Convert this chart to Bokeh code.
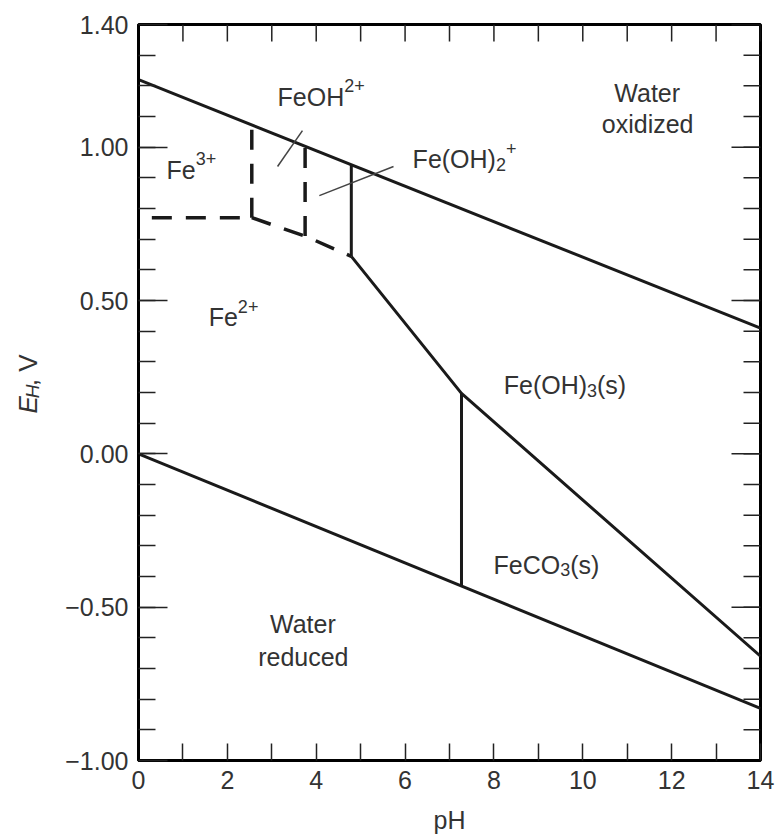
import math
from bokeh.plotting import figure
from bokeh.layouts import row
from bokeh.models import LinearAxis, FixedTicker, Range1d
from bokeh.core.properties import value
from bokeh.embed import file_html
from bokeh.resources import INLINE

# ---------------- data ----------------
x_major = [0, 2, 4, 6, 8, 10, 12, 14]
x_minor = [1, 3, 5, 7, 9, 11, 13]
x_all = list(range(0, 15))
y_major = [-1.0, -0.5, 0.0, 0.5, 1.0, 1.4]
y_labels = ["\u22121.00", "\u22120.50", "0.00", "0.50", "1.00", "1.40"]
y_minor = [round(-0.9 + 0.1 * i, 2) for i in range(23)]

water_up_ph = [0, 14]
water_up_eh = [1.22, 0.41]
water_low_ph = [0, 14]
water_low_eh = [0.0, -0.83]

fe3_fe2_ph = [0.3, 2.55]
fe3_fe2_eh = [0.77, 0.77]
fe2_dash_ph = [2.55, 3.75, 4.79]
fe2_dash_eh = [0.77, 0.71, 0.644]
v1_ph = [2.55, 2.55]
v1_eh = [0.77, 1.072]
v2_ph = [3.75, 3.75]
v2_eh = [0.71, 1.003]

v3_ph = [4.79, 4.79]
v3_eh = [0.644, 0.943]
feoh3_ph = [4.79, 7.27, 14]
feoh3_eh = [0.644, 0.197, -0.66]
v4_ph = [7.27, 7.27]
v4_eh = [0.197, -0.431]

lead1_ph = [3.13, 3.69]
lead1_eh = [0.937, 1.054]
lead2_ph = [4.07, 5.74]
lead2_eh = [0.842, 0.937]

# label runs: (text, kind) ; kind n=normal, sup, sub
labels = [
    (0.63, 0.927, [("Fe", "n"), ("3+", "sup")], "left"),
    (3.13, 1.165, [("FeOH", "n"), ("2+", "sup")], "left"),
    (6.17, 0.960, [("Fe(OH)", "n"), ("2", "sub"), ("+", "sup")], "left"),
    (1.58, 0.445, [("Fe", "n"), ("2+", "sup")], "left"),
    (8.22, 0.223, [("Fe(OH)", "n"), ("3", "sub"), ("(s)", "n")], "left"),
    (7.99, -0.361, [("FeCO", "n"), ("3", "sub"), ("(s)", "n")], "left"),
    (11.46, 1.178, [("Water", "n")], "center"),
    (11.46, 1.074, [("oxidized", "n")], "center"),
    (3.71, -0.556, [("Water", "n")], "center"),
    (3.71, -0.661, [("reduced", "n")], "center"),
]

# y-axis title runs: (text, kind, style)
ytitle_runs = [("E", "n", "italic"), ("H", "sub", "italic"), (", V", "n", "normal")]

# ---------------- style ----------------
FONT = "Liberation Sans"
TXT = "#333333"
LINE = "#1a1a1a"
BASE = 25
SMALL = 18
TBASE = 26
TSMALL = 19
TITLE_W = 50
H = 834

ADV = {"F": 611, "e": 556, "O": 778, "H": 722, "(": 333, ")": 333, "C": 722,
       "s": 500, "+": 584, "W": 944, "a": 556, "t": 278, "r": 333, "o": 556,
       "x": 500, "i": 222, "d": 556, "z": 500, "u": 556, "c": 500, "p": 556,
       "V": 667, "E": 667, ",": 278, " ": 278}


def tw(s, size):
    return sum(ADV.get(ch, 556) for ch in s) * size / 1000.0


p = figure(width=776 - TITLE_W, height=H, frame_width=622, frame_height=736,
           x_range=Range1d(0, 14), y_range=Range1d(-1.0, 1.4),
           output_backend="svg", toolbar_location=None,
           x_axis_location=None, y_axis_location=None,
           min_border_left=138 - TITLE_W, min_border_right=16, min_border_top=24,
           min_border_bottom=H - 24 - 736)
p.xgrid.visible = False
p.ygrid.visible = False
p.outline_line_color = "black"
p.outline_line_width = 3
p.background_fill_color = "white"
p.border_fill_color = "white"

xt = FixedTicker(ticks=x_major, minor_ticks=x_minor)
yt = FixedTicker(ticks=y_major, minor_ticks=y_minor)


def style_axis(ax, is_x):
    ax.axis_line_color = "black"
    ax.axis_line_width = 3
    ax.major_tick_out = 0
    ax.minor_tick_out = 0
    ax.major_tick_line_color = "#222222"
    ax.minor_tick_line_color = "#222222"
    ax.major_tick_line_width = 1.5
    ax.minor_tick_line_width = 1.5
    if is_x:
        ax.major_tick_in = 17
        ax.minor_tick_in = 17
    else:
        ax.major_tick_in = 29
        ax.minor_tick_in = 17
    ax.major_label_text_font = FONT
    ax.major_label_text_color = TXT
    ax.major_label_text_font_size = f"{BASE}px"
    ax.major_label_standoff = 10


bottom = LinearAxis(ticker=xt, axis_label="pH")
style_axis(bottom, True)
bottom.axis_label_text_font = FONT
bottom.axis_label_text_font_size = f"{BASE}px"
bottom.axis_label_text_font_style = "normal"
bottom.axis_label_text_color = TXT
bottom.axis_label_standoff = 14
p.add_layout(bottom, "below")

left = LinearAxis(ticker=yt)
style_axis(left, False)
left.major_label_overrides = {v: s for v, s in zip(y_major, y_labels)}
p.add_layout(left, "left")

# inward tick marks on the top and right frame edges
TICK = "#222222"
p.ray(x=x_all, y=[1.4] * len(x_all), length=17, length_units="screen",
      angle=-math.pi / 2, line_color=TICK, line_width=1.5)
p.ray(x=[14] * len(y_minor), y=y_minor, length=17, length_units="screen",
      angle=math.pi, line_color=TICK, line_width=1.5)
p.ray(x=[14] * len(y_major), y=y_major, length=29, length_units="screen",
      angle=math.pi, line_color=TICK, line_width=1.5)

# ---------------- lines ----------------
for xs, ys in [(water_up_ph, water_up_eh), (water_low_ph, water_low_eh),
               (v3_ph, v3_eh), (feoh3_ph, feoh3_eh), (v4_ph, v4_eh)]:
    p.line(xs, ys, line_color=LINE, line_width=3)

for xs, ys in [(fe3_fe2_ph, fe3_fe2_eh), (fe2_dash_ph, fe2_dash_eh),
               (v1_ph, v1_eh), (v2_ph, v2_eh)]:
    p.line(xs, ys, line_color=LINE, line_width=3.5, line_dash="20 14")

for xs, ys in [(lead1_ph, lead1_eh), (lead2_ph, lead2_eh)]:
    p.line(xs, ys, line_color="#444444", line_width=1.5)

# ---------------- labels ----------------
DY = {"n": 0, "sup": -11, "sub": 5}
for x, y, runs, align in labels:
    total = sum(tw(s, BASE if k == "n" else SMALL) for s, k in runs)
    off = 0.0 if align == "left" else -total / 2.0
    for s, k in runs:
        size = BASE if k == "n" else SMALL
        p.text(x=[x], y=[y], text=[s], x_offset=off, y_offset=DY[k],
               text_font=value(FONT), text_font_size=f"{size}px",
               text_color=TXT, text_align="left", text_baseline="alphabetic")
        off += tw(s, size)

# ---------------- y-axis title panel ----------------
t = figure(width=TITLE_W, height=H, x_range=Range1d(0, TITLE_W), y_range=Range1d(0, H),
           output_backend="svg", toolbar_location=None,
           x_axis_location=None, y_axis_location=None, min_border=0)
t.xgrid.visible = False
t.ygrid.visible = False
t.outline_line_color = None
t.background_fill_color = "white"
t.border_fill_color = "white"

# start of title (rotated, reading upward): baseline x and bottom y in panel pixels
tx0, ty0 = 27.0, H - 442.0
cum = 0.0
for s, k, style in ytitle_runs:
    size = TBASE if k == "n" else TSMALL
    t.text(x=[tx0], y=[ty0 + cum], text=[s], angle=math.pi / 2,
           x_offset=(5 if k == "sub" else 0),
           text_font=value(FONT), text_font_size=f"{size}px",
           text_font_style=style, text_color=TXT,
           text_align="left", text_baseline="alphabetic")
    cum += tw(s, size)

layout = row(t, p, spacing=0)
open("out.html", "w").write(file_html(layout, INLINE))
